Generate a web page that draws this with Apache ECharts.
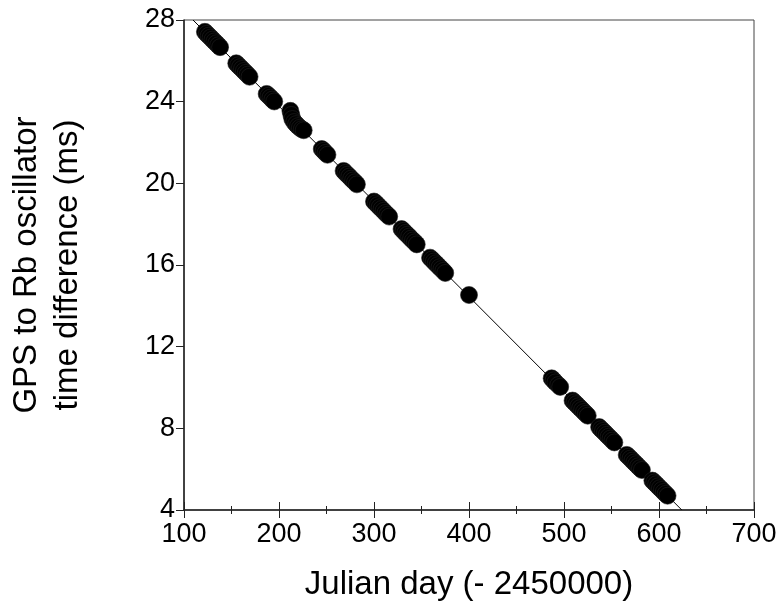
<!DOCTYPE html>
<html>
<head>
<meta charset="utf-8">
<title>GPS to Rb oscillator time difference</title>
<script src="https://cdn.jsdelivr.net/npm/echarts@6/dist/echarts.min.js"></script>
<style>
	html, body { margin: 0; padding: 0; background: #fff; }
	#chart { width: 782px; height: 602px; }
</style>
</head>
<body>
<div id="chart"></div>
<script>
const julianDay = [
	122, 124, 126, 128, 130, 132, 134, 136, 138,
	155, 157, 159, 161, 163, 165, 167, 169,
	187, 189, 191, 193, 195,
	212, 213, 214, 216, 218, 220, 222, 224, 226,
	245, 247, 249, 251,
	268, 270, 272, 274, 276, 278, 280, 282,
	300, 302, 304, 306, 308, 310, 312, 314, 316,
	329, 331, 333, 335, 337, 339, 341, 343, 345,
	359, 361, 363, 365, 367, 369, 371, 373, 375,
	400,
	487, 489, 491, 494, 496,
	509, 511, 513, 515, 517, 519, 521, 523, 525,
	537, 539, 541, 543, 545, 547, 549, 551, 553,
	566, 568, 570, 572, 574, 576, 578, 580, 582,
	593, 595, 597, 599, 601, 603, 605, 607, 609
];
const timeDiff = [
	27.42, 27.32, 27.23, 27.14, 27.04, 26.95, 26.86, 26.76, 26.67,
	25.88, 25.78, 25.69, 25.60, 25.50, 25.41, 25.32, 25.22,
	24.38, 24.29, 24.20, 24.10, 24.01,
	23.55, 23.35, 23.15, 23.00, 22.90, 22.80, 22.72, 22.65, 22.60,
	21.68, 21.59, 21.49, 21.40,
	20.61, 20.51, 20.42, 20.33, 20.23, 20.14, 20.05, 19.95,
	19.11, 19.02, 18.93, 18.83, 18.74, 18.65, 18.55, 18.46, 18.37,
	17.76, 17.67, 17.57, 17.48, 17.39, 17.29, 17.20, 17.11, 17.01,
	16.36, 16.27, 16.17, 16.08, 15.99, 15.89, 15.80, 15.71, 15.61,
	14.53,
	10.45, 10.35, 10.25, 10.12, 10.03,
	9.36, 9.27, 9.18, 9.08, 8.99, 8.90, 8.80, 8.71, 8.62,
	8.06, 7.96, 7.87, 7.78, 7.68, 7.59, 7.50, 7.40, 7.31,
	6.70, 6.61, 6.52, 6.42, 6.33, 6.24, 6.14, 6.05, 5.96,
	5.44, 5.35, 5.26, 5.16, 5.07, 4.98, 4.88, 4.79, 4.70
];

// Fitted straight line, end points where it meets the frame.
const fitDay = [ 109.5, 624 ];
const fitValue = [ 28, 4 ];

const xRange = { min: 100, max: 700, interval: 100 };
const yRange = { min: 4, max: 28, interval: 4 };

const fontFamily = '"Liberation Sans", Arial, sans-serif';

/**
 * Zips two arrays into [x, y] pairs.
 *
 * @param {number[]} xs
 * @param {number[]} ys
 * @return {number[][]}
 */
const pairs = ( xs, ys ) => xs.map( ( x, i ) => [ x, ys[ i ] ] );

const chart = echarts.init( document.getElementById( 'chart' ), null, { renderer: 'canvas' } );

const tickLabel = {
	color: '#000',
	fontSize: 27,
	fontFamily
};

chart.setOption( {
	animation: false,
	backgroundColor: '#fff',
	grid: {
		left: 184,
		right: 28,
		top: 20,
		bottom: 92,
		containLabel: false,
		// keep the grid where it is, do not shrink it to fit the names
		outerBoundsMode: 'none',
		show: true,
		borderColor: '#444',
		borderWidth: 1
	},
	xAxis: [
		{
			type: 'value',
			min: xRange.min,
			max: xRange.max,
			interval: xRange.interval,
			name: 'Julian day (- 2450000)',
			nameLocation: 'middle',
			nameGap: 58,
			nameTextStyle: { color: '#000', fontSize: 33, fontFamily },
			axisLine: { show: true, lineStyle: { color: '#222', width: 1.5 } },
			axisTick: { show: true, inside: false, length: 8, lineStyle: { color: '#222' } },
			minorTick: { show: true, splitNumber: 2, length: 4, lineStyle: { color: '#222' } },
			axisLabel: Object.assign( { margin: 11 }, tickLabel ),
			splitLine: { show: false }
		},
		{
			// second copy only to get the ticks crossing the axis line
			type: 'value',
			position: 'bottom',
			min: xRange.min,
			max: xRange.max,
			interval: xRange.interval,
			axisLine: { show: false },
			axisTick: { show: true, inside: true, length: 8, lineStyle: { color: '#222' } },
			minorTick: { show: true, splitNumber: 2, length: 4, lineStyle: { color: '#222' } },
			axisLabel: { show: false },
			splitLine: { show: false }
		}
	],
	yAxis: {
		type: 'value',
		min: yRange.min,
		max: yRange.max,
		interval: yRange.interval,
		name: 'GPS to Rb oscillator\ntime difference (ms)',
		nameLocation: 'middle',
		nameGap: 96,
		nameTextStyle: { color: '#000', fontSize: 33, fontFamily, lineHeight: 41 },
		axisLine: { show: true, lineStyle: { color: '#222', width: 1.5 } },
		axisTick: { show: true, inside: false, length: 8, lineStyle: { color: '#222' } },
		axisLabel: Object.assign( { margin: 9 }, tickLabel ),
		splitLine: { show: false }
	},
	series: [
		{
			type: 'line',
			data: pairs( fitDay, fitValue ),
			symbol: 'none',
			lineStyle: { color: '#000', width: 1 },
			z: 1
		},
		{
			type: 'scatter',
			data: pairs( julianDay, timeDiff ),
			symbol: 'circle',
			symbolSize: 17,
			itemStyle: { color: '#000', borderColor: '#222', borderWidth: 0.6, opacity: 1 },
			z: 2
		}
	]
} );
</script>
</body>
</html>
